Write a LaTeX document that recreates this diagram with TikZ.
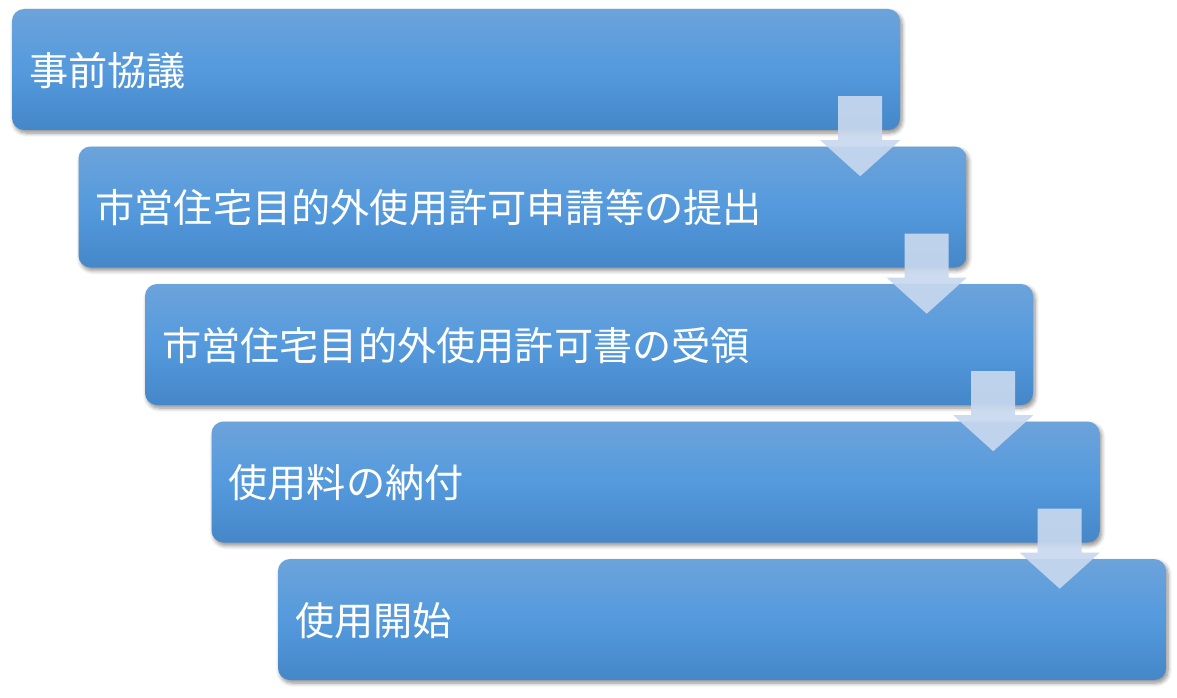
\documentclass[tikz,border=0pt]{standalone}
\usepackage{fontspec}
\newfontfamily\cjk{Noto Sans CJK JP}
\usetikzlibrary{shadows.blur,calc}
\definecolor{boxtop}{HTML}{6CA3DB}
\definecolor{boxmid}{HTML}{549ADD}
\definecolor{boxbot}{HTML}{4587C9}
\definecolor{arrowfill}{HTML}{C8D8EE}
\tikzset{
  stepbox/.style={rectangle, rounded corners=12pt, minimum width=888pt, minimum height=121pt,
    inner sep=0pt, top color=boxtop, bottom color=boxbot, middle color=boxmid, draw=none,
    blur shadow={shadow xshift=2pt, shadow yshift=-3pt, shadow blur steps=6, shadow blur radius=4pt, shadow opacity=45}},
  steplabel/.style={anchor=west, text=white, font=\cjk\fontsize{39.2}{41}\selectfont, inner sep=0pt},
  flowarrow/.style={fill=arrowfill, draw=none, fill opacity=0.92}
}
\begin{document}
\begin{tikzpicture}[x=1pt,y=-1pt]
\useasboundingbox (0,0) rectangle (1177,698);
\foreach \i/\t in {1/事前協議,2/市営住宅目的外使用許可申請等の提出,3/市営住宅目的外使用許可書の受領,4/使用料の納付,5/使用開始}{
  \node[stepbox] (b\i) at ({456+66.5*(\i-1)},{69.5+137.5*(\i-1)}) {};
  \node[steplabel] (t\i) at ($(b\i.west)+(17,1)$) {\t};
}
\foreach \i/\j in {1/2,2/3,3/4,4/5}{
  \coordinate (c\i) at (b\i.south east);
  \fill[flowarrow] ($(c\i)+(-62,-34)$) -- ($(c\i)+(-18,-34)$) -- ($(c\i)+(-18,10)$) -- ($(c\i)+(0,10)$)
     -- ($(c\i)+(-40,46)$) -- ($(c\i)+(-80,10)$) -- ($(c\i)+(-62,10)$) -- cycle;
}
\end{tikzpicture}
\end{document}
